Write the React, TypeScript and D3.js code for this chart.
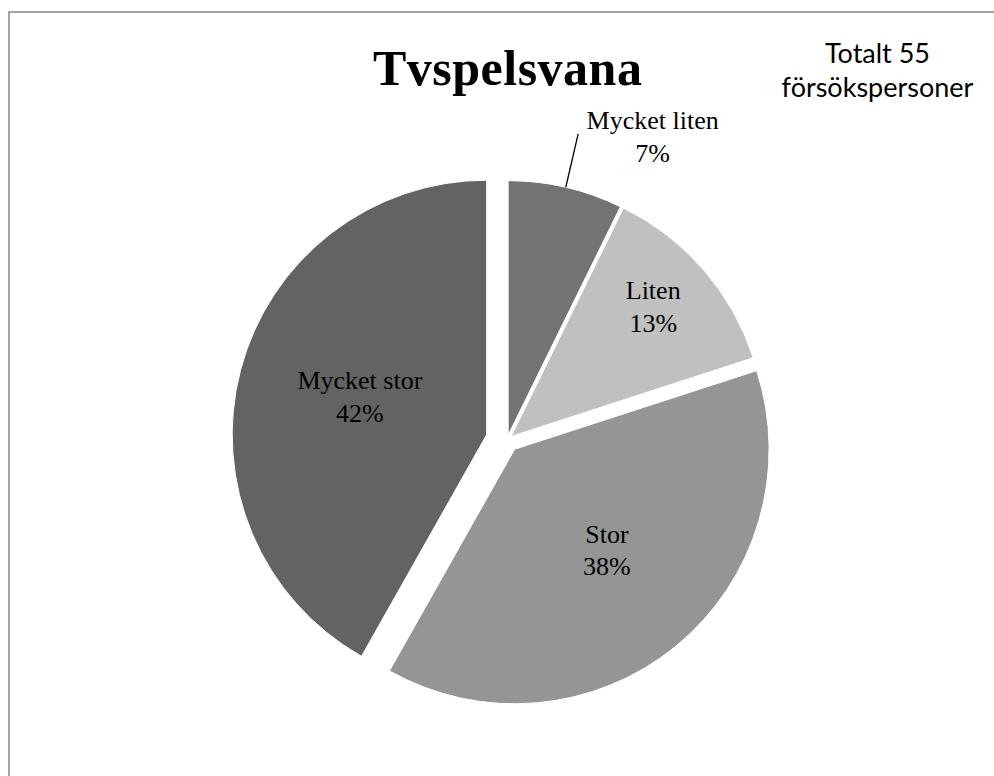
import React from "react";
import * as d3 from "d3";

const categories = ["Mycket liten", "Liten", "Stor", "Mycket stor"];
const counts = [4, 7, 21, 23];
const percentLabels = ["7%", "13%", "38%", "42%"];
const colors = ["#737373", "#c0c0c0", "#959595", "#636363"];
const title = "Tvspelsvana";
const noteLines = ["Totalt 55", "försökspersoner"];

// layout
const W = 994;
const H = 776;
const CX = 507;
const CY = 440;
const R = 254.5;
const explode = [5, 5.5, 12, 21];
// label placement: radius factor, angle tweak (deg); -1 => outside with leader
const labelK = [-1, 0.756, 0.537, 0.52];
const labelDA = [0, -1.5, -3.2, 1.9];
const LH = 32.4;

export default function App() {
  const pie = d3.pie<number>().sort(null).value((d) => d);
  const arcs = pie(counts);
  const arcGen = d3.arc<d3.PieArcDatum<number>>().innerRadius(0).outerRadius(R);

  return (
    <svg
      width={W}
      height={H}
      style={{ position: "absolute", left: 0, top: 0, display: "block", background: "#fff" }}
    >
      <rect x={9} y={12} width={1100} height={900} fill="#fff" stroke="#9a9a9a" strokeWidth={1.8} />
      <text
        x={507.7}
        y={85}
        textAnchor="middle"
        fontFamily="'Liberation Serif', 'Times New Roman', serif"
        fontWeight="bold"
        fontSize={50}
        letterSpacing={0.5}
        fill="#000"
      >
        {title}
      </text>
      {noteLines.map((t, i) => (
        <text
          key={t}
          x={877.5}
          y={62.7 + i * 34.6}
          textAnchor="middle"
          fontFamily="Lato, 'Open Sans', sans-serif"
          fontSize={27}
          fill="#000"
        >
          {t}
        </text>
      ))}
      {arcs.map((a, i) => {
        const mid = (a.startAngle + a.endAngle) / 2;
        const ox = Math.sin(mid) * explode[i];
        const oy = -Math.cos(mid) * explode[i];
        const ax = CX + ox;
        const ay = CY + oy;
        let label;
        if (labelK[i] < 0) {
          const x1 = ax + Math.sin(mid) * R;
          const y1 = ay - Math.cos(mid) * R;
          const x2 = ax + Math.sin(mid) * R * 1.215;
          const y2 = ay - Math.cos(mid) * R * 1.215;
          label = (
            <g>
              <line x1={x1} y1={y1} x2={x2} y2={y2} stroke="#000" strokeWidth={1.3} />
              <text
                textAnchor="middle"
                fontFamily="'Liberation Serif', 'Times New Roman', serif"
                fontSize={26}
                fill="#000"
              >
                <tspan x={x2 + 74.5} y={y2 - 4.6}>{categories[i]}</tspan>
                <tspan x={x2 + 74.5} y={y2 - 4.6 + LH}>{percentLabels[i]}</tspan>
              </text>
            </g>
          );
        } else {
          const ang = mid + (labelDA[i] * Math.PI) / 180;
          const lx = ax + Math.sin(ang) * R * labelK[i];
          const ly = ay - Math.cos(ang) * R * labelK[i];
          label = (
            <text
              textAnchor="middle"
              fontFamily="'Liberation Serif', 'Times New Roman', serif"
              fontSize={26}
              fill="#000"
            >
              <tspan x={lx} y={ly - 7.5}>{categories[i]}</tspan>
              <tspan x={lx} y={ly - 7.5 + LH}>{percentLabels[i]}</tspan>
            </text>
          );
        }
        return (
          <g key={categories[i]}>
            <path
              d={arcGen(a) || ""}
              transform={`translate(${ax},${ay})`}
              fill={colors[i]}
              stroke="#fff"
              strokeWidth={1}
            />
            {label}
          </g>
        );
      })}
    </svg>
  );
}
